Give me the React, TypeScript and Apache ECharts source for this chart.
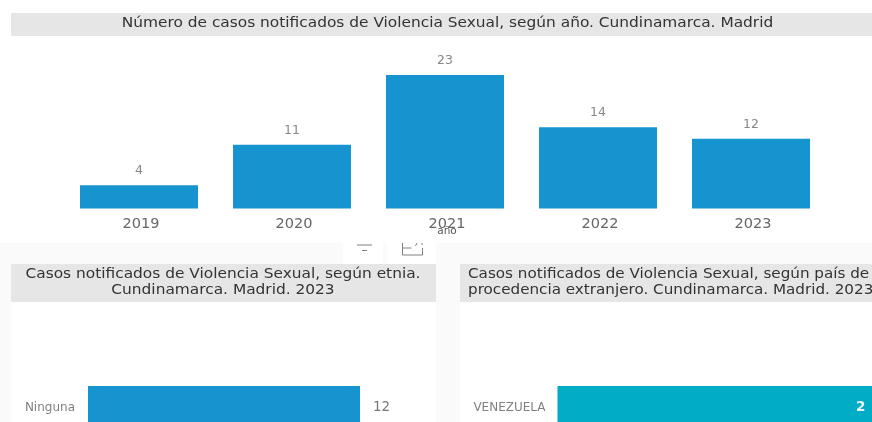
import React, { useEffect, useRef } from "react";
import * as echarts from "echarts";

const years = ["2019", "2020", "2021", "2022", "2023"];
const yearCases = [4, 11, 23, 14, 12];
const ethnicity = ["Ninguna"];
const ethnicityCases = [12];
const countries = ["VENEZUELA"];
const countryCases = [2];

const titleTop = "Número de casos notificados de Violencia Sexual, según año. Cundinamarca. Madrid";
const titleLeft = "Casos notificados de Violencia Sexual, según etnia.\nCundinamarca. Madrid. 2023";
const titleRight = "Casos notificados de Violencia Sexual, según país de\nprocedencia extranjero. Cundinamarca. Madrid. 2023";
const axisNameTop = "año";

const FONT = "'DejaVu Sans', sans-serif";
const BLUE = "#1594d0";
const TEAL = "#01acc6";
const BAND = "#e6e6e6";
const PANEL = "#fafafa";
const TITLE_COLOR = "#333333";
const TITLE_SCALE = 1.1;
const ICON_COLOR = "#808080";

echarts.graphic.registerShape(
  "focusIcon",
  echarts.graphic.extendPath("M0 0V12H20V5M0 5H9M13 3L14.5 0M19.5 0V2", {}) as any
);

export default function App() {
  const ref = useRef<HTMLDivElement>(null);
  useEffect(() => {
    if (!ref.current) return;
    const chart = echarts.init(ref.current, undefined, { renderer: "svg" });
    chart.setOption({
      animation: false,
      backgroundColor: "#ffffff",
      grid: [
        { left: 62.5, width: 765, top: 75, height: 133.5, outerBoundsMode: "none" },
        { left: 88, width: 272, top: 386, height: 42, outerBoundsMode: "none" },
        { left: 557.5, width: 315, top: 386, height: 42, outerBoundsMode: "none" },
      ],
      xAxis: [
        {
          type: "category",
          gridIndex: 0,
          data: years,
          axisLine: { show: false },
          axisTick: { show: false },
          axisLabel: { color: "#666666", fontFamily: FONT, fontSize: 14.5, margin: 7, padding: [0, 0, 0, 4] },
        },
        { type: "value", gridIndex: 1, min: 0, max: 12, show: false },
        { type: "value", gridIndex: 2, min: 0, max: 2, show: false },
      ],
      yAxis: [
        { type: "value", gridIndex: 0, min: 0, max: 23, show: false },
        {
          type: "category",
          gridIndex: 1,
          data: ethnicity,
          axisLine: { show: false },
          axisTick: { show: false },
          axisLabel: { color: "#808080", fontFamily: FONT, fontSize: 12, margin: 13 },
        },
        {
          type: "category",
          gridIndex: 2,
          data: countries,
          axisLine: { show: false },
          axisTick: { show: false },
          axisLabel: { color: "#808080", fontFamily: FONT, fontSize: 12, margin: 12 },
        },
      ],
      series: [
        {
          type: "bar",
          xAxisIndex: 0,
          yAxisIndex: 0,
          data: yearCases,
          barWidth: 118,
          itemStyle: { color: BLUE },
          label: { show: true, position: "top", distance: 9, color: "#888888", fontFamily: FONT, fontSize: 12.5 },
        },
        {
          type: "bar",
          xAxisIndex: 1,
          yAxisIndex: 1,
          data: ethnicityCases,
          barWidth: 42,
          itemStyle: { color: BLUE },
          label: { show: true, position: "right", distance: 13, offset: [0, -1.5], color: "#777777", fontFamily: FONT, fontSize: 13.5 },
        },
        {
          type: "bar",
          xAxisIndex: 2,
          yAxisIndex: 2,
          data: countryCases,
          barWidth: 42,
          itemStyle: { color: TEAL },
          label: { show: true, position: "insideRight", distance: 7, offset: [0, -1.5], color: "#f2f2f2", fontFamily: FONT, fontSize: 13.5, fontWeight: "bold" },
        },
      ],
      graphic: [
        { type: "rect", z: -10, shape: { x: 0, y: 243, width: 872, height: 179 }, style: { fill: PANEL } },
        { type: "rect", z: -9, shape: { x: 343, y: 243, width: 40, height: 21 }, style: { fill: "#ffffff" } },
        { type: "rect", z: -9, shape: { x: 387, y: 243, width: 49, height: 21 }, style: { fill: "#ffffff" } },
        { type: "rect", z: -9, shape: { x: 11, y: 302, width: 425, height: 120 }, style: { fill: "#ffffff" } },
        { type: "rect", z: -9, shape: { x: 460, y: 302, width: 412, height: 120 }, style: { fill: "#ffffff" } },
        { type: "rect", z: -8, shape: { x: 11, y: 13, width: 861, height: 23 }, style: { fill: BAND } },
        { type: "rect", z: -8, shape: { x: 11, y: 264, width: 425, height: 38 }, style: { fill: BAND } },
        { type: "rect", z: -8, shape: { x: 460, y: 264, width: 412, height: 38 }, style: { fill: BAND } },
        { type: "line", shape: { x1: 357, y1: 245, x2: 372, y2: 245 }, style: { stroke: ICON_COLOR, lineWidth: 1 } },
        { type: "line", shape: { x1: 362, y1: 250.5, x2: 367, y2: 250.5 }, style: { stroke: ICON_COLOR, lineWidth: 1 } },
        { type: "focusIcon", x: 402.5, y: 243, style: { fill: "none", stroke: ICON_COLOR, lineWidth: 1 } },
        { type: "text", x: 447, y: 230, style: { text: axisNameTop, fill: "#555555", font: `10.5px ${FONT}`, align: "center", verticalAlign: "middle" } },
        { type: "text", x: 447.5, y: 22, scaleX: TITLE_SCALE, style: { text: titleTop, fill: TITLE_COLOR, font: `14px ${FONT}`, align: "center", verticalAlign: "middle" } },
        { type: "text", x: 223, y: 280.5, scaleX: TITLE_SCALE, style: { text: titleLeft, fill: TITLE_COLOR, font: `14px ${FONT}`, lineHeight: 16, align: "center", verticalAlign: "middle" } },
        { type: "text", x: 468, y: 280.5, scaleX: 1.085, style: { text: titleRight, fill: TITLE_COLOR, font: `14px ${FONT}`, lineHeight: 16, align: "left", verticalAlign: "middle" } },
      ],
    });
    return () => chart.dispose();
  }, []);
  return <div ref={ref} style={{ position: "fixed", left: 0, top: 0, width: 872, height: 422, filter: "blur(0.45px)" }} />;
}
